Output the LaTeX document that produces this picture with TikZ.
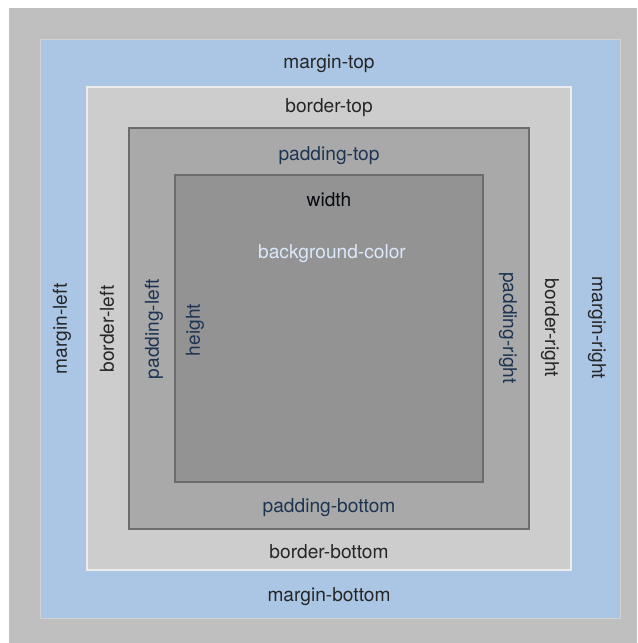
\documentclass[tikz,border=0pt]{standalone}
\usepackage{fontspec}
\setmainfont{TeX Gyre Heros}

\definecolor{pagegray}{HTML}{BFBFBF}
\definecolor{marginblue}{HTML}{ABC6E4}
\definecolor{bordergray}{HTML}{CDCDCD}
\definecolor{padgray}{HTML}{A9A9A9}
\definecolor{contentgray}{HTML}{939393}
\definecolor{edgedark}{HTML}{6C6C6C}
\definecolor{labelnavy}{HTML}{1E3452}
\definecolor{bgtext}{HTML}{DCE9FA}

\begin{document}
\begin{tikzpicture}[x=0.02cm,y=-0.02cm,
  every node/.style={inner sep=0pt,font=\fontsize{10.9}{13}\selectfont},
  boxlbl/.style={text=black!85},
  padlbl/.style={text=labelnavy}]
\useasboundingbox (0,0) rectangle (637,643);
% nested boxes, outside in
\fill[pagegray] (9,8) rectangle (637,643);
\filldraw[fill=marginblue,draw=gray!35,line width=0.5pt] (40,39) rectangle (620,618);
\filldraw[fill=bordergray,draw=white!85!gray,line width=0.6pt] (87,87) rectangle (571,570);
\filldraw[fill=padgray,draw=edgedark,line width=0.6pt] (129,128) rectangle (529,529);
\filldraw[fill=contentgray,draw=edgedark,line width=0.7pt] (175,175) rectangle (483,482);

% margin
\node[boxlbl] (mtop) at (329,64) {margin-top};
\node[boxlbl] (mbot) at (329,597) {margin-bottom};
\node[boxlbl,rotate=90] (mleft) at (62,329) {margin-left};
\node[boxlbl,rotate=-90] (mright) at (597,328) {margin-right};
% border
\node[boxlbl] (btop) at (329,108) {border-top};
\node[boxlbl] (bbot) at (329,552) {border-bottom};
\node[boxlbl,rotate=90] (bleft) at (107,329) {border-left};
\node[boxlbl,rotate=-90] (bright) at (550,328) {border-right};
% padding
\node[padlbl] (ptop) at (329,156) {padding-top};
\node[padlbl] (pbot) at (329,508) {padding-bottom};
\node[padlbl,rotate=90] (pleft) at (154,329) {padding-left};
\node[padlbl,rotate=-90] (pright) at (508,328) {padding-right};
% content
\node[text=black!80!labelnavy] (wd) at (329,200) {width};
\node[padlbl,rotate=90] (ht) at (195,330) {height};
\node[text=bgtext] (bg) at (332,254) {background-color};
\end{tikzpicture}
\end{document}
